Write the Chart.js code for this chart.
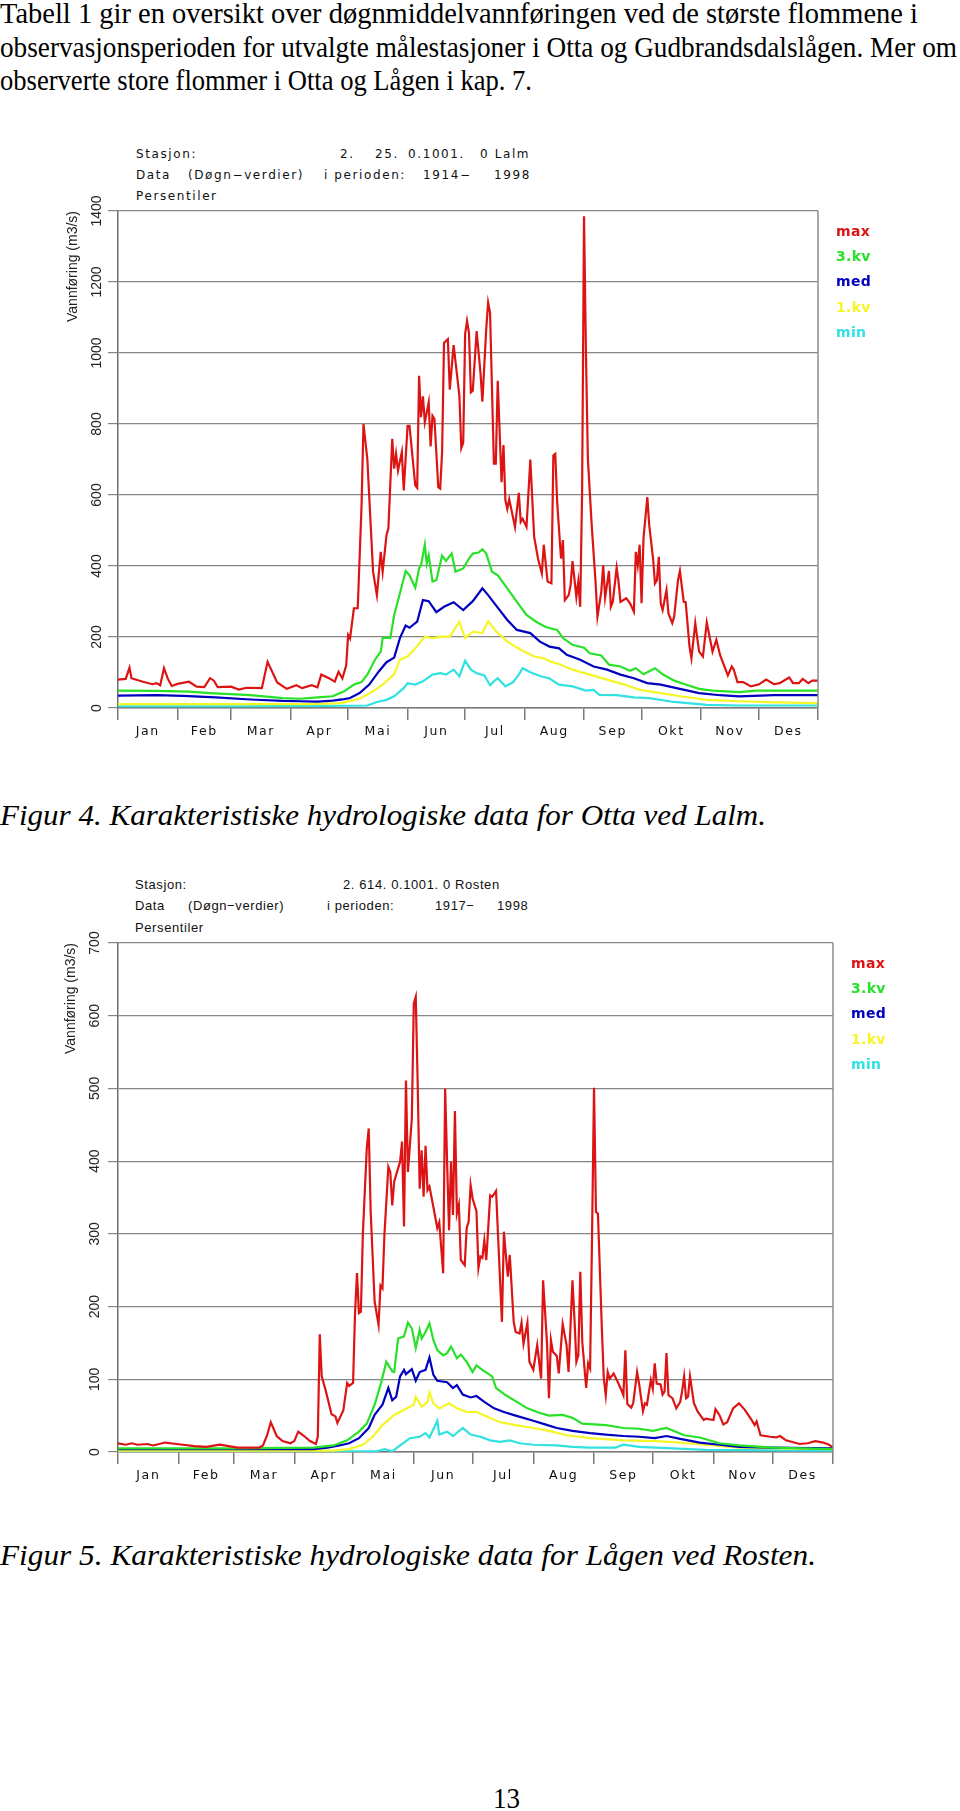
<!DOCTYPE html>
<html lang="no">
<head>
<meta charset="UTF-8">
<title>Figur 4 og 5 - persentiler</title>
<script src="https://cdn.jsdelivr.net/npm/chart.js"></script>
<style>
  body { margin: 0; background: #fff; }
  .page { position: relative; width: 960px; height: 1811px; overflow: hidden; }
  .serif { position: absolute; left: 0; font-family: "Liberation Serif", "Times New Roman", serif; font-size: 30px; line-height: 30px; color: #000; white-space: nowrap; transform-origin: 0 0; }
  .serif.it { font-style: italic; }
  .h1 { position: absolute; font-family: "DejaVu Sans", sans-serif; font-size: 12px; line-height: 14px; letter-spacing: 1.6px; color: #111; white-space: pre; }
  .h2 { position: absolute; font-family: "Liberation Sans", sans-serif; font-size: 13px; line-height: 14px; letter-spacing: 0.6px; color: #111; white-space: pre; }
  canvas { position: absolute; left: 0; }
</style>
</head>
<body>
<div class="page">

  <!-- brødtekst -->
  <div class="serif fit" data-w="918" style="top:-2px">Tabell 1 gir en oversikt over døgnmiddelvannføringen ved de største flommene i</div>
  <div class="serif fit" data-w="957" style="top:32px">observasjonsperioden for utvalgte målestasjoner i Otta og Gudbrandsdalslågen. Mer om</div>
  <div class="serif fit" data-w="532" style="top:65px">observerte store flommer i Otta og Lågen i kap. 7.</div>

  <!-- hode figur 4 -->
  <span class="h1" style="left:136px;top:147px">Stasjon:</span>
  <span class="h1" style="left:340px;top:147px">2.</span>
  <span class="h1" style="left:375px;top:147px">25.</span>
  <span class="h1" style="left:408px;top:147px">0.1001.</span>
  <span class="h1" style="left:480px;top:147px">0 Lalm</span>
  <span class="h1" style="left:136px;top:168px">Data</span>
  <span class="h1" style="left:188px;top:168px">(Døgn−verdier)</span>
  <span class="h1" style="left:324px;top:168px">i perioden:</span>
  <span class="h1" style="left:423px;top:168px">1914−</span>
  <span class="h1" style="left:494px;top:168px">1998</span>
  <span class="h1" style="left:136px;top:189px">Persentiler</span>

  <canvas id="lalm" width="960" height="630" style="top:120px"></canvas>

  <div class="serif it fit" data-w="766" style="top:800px">Figur 4. Karakteristiske hydrologiske data for Otta ved Lalm.</div>

  <!-- hode figur 5 -->
  <span class="h2" style="left:135px;top:878px">Stasjon:</span>
  <span class="h2" style="left:343px;top:878px">2. 614. 0.1001. 0 Rosten</span>
  <span class="h2" style="left:135px;top:899px">Data</span>
  <span class="h2" style="left:188px;top:899px">(Døgn−verdier)</span>
  <span class="h2" style="left:327px;top:899px">i perioden:</span>
  <span class="h2" style="left:435px;top:899px">1917−</span>
  <span class="h2" style="left:497px;top:899px">1998</span>
  <span class="h2" style="left:135px;top:921px">Persentiler</span>

  <canvas id="rosten" width="960" height="645" style="top:850px"></canvas>

  <div class="serif it fit" data-w="816" style="top:1540px">Figur 5. Karakteristiske hydrologiske data for Lågen ved Rosten.</div>
  <div class="serif fit" data-w="27" style="left:493px;top:1783px">13</div>
</div>

<script>
// felles for begge figurene
const monthNames = ['Jan', 'Feb', 'Mar', 'Apr', 'Mai', 'Jun', 'Jul', 'Aug', 'Sep', 'Okt', 'Nov', 'Des'];
const monthStarts = [0, 31, 59, 90, 120, 151, 181, 212, 243, 273, 304, 334, 365];
const seriesNames = ['max', '3.kv', 'med', '1.kv', 'min'];
const seriesColors = ['#dc1414', '#28e128', '#0000be', '#f5f528', '#32e1e1'];

// Figur 4: Otta ved Lalm, [dag i året, m3/s]
const lalmYTicks = [0, 200, 400, 600, 800, 1000, 1200, 1400];
const lalmMax = [[0,80],[4,82],[6,114],[7,84],[13,74],[18,67],[20,70],[22,64],[24,112],[26,82],[28,62],[31,68],[37,74],[41,60],[45,59],[48,84],[50,77],[52,59],[59,60],[63,52],[67,57],[75,56],[78,130],[83,72],[88,54],[93,64],[96,56],[101,64],[104,58],[106,94],[110,84],[113,74],[115,102],[117,83],[119,120],[120,206],[121,196],[123,281],[125,281],[127,571],[128,800],[130,702],[133,384],[135,318],[137,440],[138,384],[140,487],[141,507],[143,758],[144,674],[145,716],[146,669],[148,721],[149,613],[151,795],[152,795],[155,627],[156,620],[157,936],[158,819],[159,878],[160,805],[162,861],[163,737],[164,823],[165,814],[167,622],[168,618],[169,721],[170,1029],[172,1039],[173,897],[175,1022],[178,880],[179,732],[180,747],[181,1053],[182,1090],[183,1057],[184,889],[185,894],[187,1062],[189,945],[190,863],[192,1067],[193,1142],[194,1114],[196,688],[197,688],[198,922],[200,636],[201,741],[202,585],[203,561],[204,588],[207,510],[209,606],[210,524],[211,533],[213,510],[215,700],[217,482],[219,421],[221,379],[222,460],[224,356],[226,351],[227,711],[228,716],[229,580],[231,421],[232,473],[233,304],[235,318],[236,346],[237,414],[239,313],[240,356],[241,285],[242,608],[243,1385],[244,1001],[245,702],[247,515],[249,356],[250,257],[252,328],[253,402],[254,311],[256,386],[257,285],[258,299],[260,395],[261,356],[262,299],[265,309],[267,295],[269,271],[270,440],[271,402],[272,460],[273,295],[274,477],[276,594],[277,515],[279,421],[280,351],[281,360],[282,426],[283,295],[284,276],[286,332],[287,267],[289,239],[290,257],[292,360],[293,386],[295,299],[296,298],[298,173],[299,140],[301,239],[303,159],[305,145],[307,241],[310,159],[312,192],[314,148],[318,92],[320,117],[321,109],[323,73],[326,73],[330,61],[334,66],[338,80],[342,67],[345,70],[350,86],[352,70],[355,70],[357,82],[360,70],[362,77],[365,77]];
const lalmQ3 = [[0,49],[20,48],[37,46],[48,42],[69,36],[86,28],[95,26],[104,30],[112,33],[114,38],[118,47],[123,66],[127,73],[130,94],[134,136],[137,159],[138,197],[140,198],[142,197],[144,262],[147,323],[150,386],[152,374],[155,339],[157,393],[158,402],[160,460],[161,407],[162,430],[164,356],[166,360],[169,429],[171,414],[174,435],[176,384],[180,393],[183,421],[185,435],[188,438],[190,447],[192,435],[195,384],[198,374],[203,337],[208,299],[213,262],[218,243],[223,228],[229,220],[232,197],[237,178],[243,170],[246,154],[252,148],[256,122],[262,117],[267,105],[270,112],[274,95],[280,112],[284,95],[290,77],[296,66],[303,54],[310,49],[317,47],[324,45],[333,49],[342,49],[365,49]];
const lalmMed = [[0,35],[20,36],[34,34],[51,30],[69,24],[86,20],[95,19],[104,18],[112,21],[118,25],[121,28],[126,42],[131,66],[136,103],[140,129],[144,142],[147,197],[150,232],[152,226],[156,243],[159,304],[162,301],[166,270],[170,285],[175,298],[180,276],[185,301],[190,337],[193,318],[197,290],[203,248],[208,220],[215,211],[220,187],[225,173],[230,168],[234,150],[241,136],[248,117],[255,108],[262,94],[269,84],[276,70],[283,66],[293,54],[303,42],[314,36],[324,33],[342,36],[365,36]];
const lalmQ1 = [[0,11],[60,11],[100,11],[114,13],[118,15],[121,20],[126,26],[133,47],[138,66],[144,95],[147,136],[151,145],[155,168],[160,201],[164,197],[169,201],[173,201],[178,243],[181,197],[185,215],[190,211],[193,245],[197,217],[203,187],[210,164],[217,145],[222,140],[226,130],[230,124],[237,108],[246,94],[255,80],[264,66],[272,51],[283,42],[293,33],[307,23],[324,19],[342,16],[365,14]];
const lalmMin = [[0,5],[60,5],[110,6],[130,7],[135,17],[140,23],[144,33],[149,56],[151,70],[155,66],[159,75],[164,94],[168,98],[171,94],[175,108],[178,89],[181,133],[184,108],[187,98],[191,92],[194,64],[196,75],[198,84],[202,61],[206,73],[209,94],[211,112],[215,101],[220,90],[225,83],[230,66],[237,61],[244,49],[248,51],[251,37],[260,36],[269,30],[277,28],[290,17],[307,9],[324,7],[365,7]];

// Figur 5: Lågen ved Rosten
const rostenYTicks = [0, 100, 200, 300, 400, 500, 600, 700];
const rostenMax = [[0,12],[4,10],[7,12],[10,10],[15,11],[18,9],[24,13],[30,11],[39,8],[45,7],[52,10],[61,6],[72,6],[74,9],[76,22],[78,41],[81,22],[84,15],[88,12],[90,15],[92,28],[95,22],[98,15],[101,11],[102,21],[103,162],[104,104],[106,85],[109,52],[111,49],[112,40],[115,57],[117,95],[118,91],[120,95],[121,191],[122,246],[123,191],[124,193],[125,300],[127,418],[128,445],[129,330],[131,207],[133,175],[134,229],[135,225],[136,298],[138,392],[139,385],[140,339],[141,372],[143,390],[144,399],[145,427],[146,310],[147,511],[148,385],[150,459],[151,617],[152,626],[153,505],[154,362],[155,415],[156,351],[157,421],[158,360],[159,365],[161,337],[163,308],[164,316],[166,246],[167,500],[168,399],[169,305],[170,399],[171,326],[172,469],[173,328],[174,340],[175,264],[177,257],[178,308],[179,317],[180,367],[181,349],[183,331],[184,253],[185,269],[186,267],[187,291],[188,264],[190,353],[191,351],[193,359],[194,298],[196,179],[197,303],[198,271],[199,241],[200,271],[202,179],[203,165],[205,163],[206,178],[207,149],[209,178],[210,124],[212,113],[214,147],[216,101],[217,236],[219,150],[220,74],[221,154],[222,138],[224,132],[225,108],[227,176],[229,147],[230,110],[232,236],[233,184],[234,124],[235,133],[236,248],[237,152],[239,88],[240,122],[241,115],[242,298],[243,501],[244,330],[245,328],[247,170],[248,101],[249,78],[250,110],[251,101],[253,108],[255,97],[257,85],[258,78],[259,140],[260,66],[262,61],[263,67],[265,110],[266,94],[268,56],[269,67],[270,65],[272,99],[273,87],[274,122],[275,94],[277,93],[278,79],[279,83],[280,136],[281,78],[283,74],[285,60],[287,69],[288,84],[289,104],[290,74],[291,76],[292,104],[294,67],[296,55],[299,44],[300,46],[304,44],[305,59],[307,51],[309,38],[311,41],[314,60],[317,67],[320,58],[323,46],[325,37],[326,42],[328,23],[333,21],[336,20],[338,22],[341,16],[348,11],[352,12],[356,15],[360,13],[363,10],[365,6]];
const rostenQ3 = [[0,5],[60,5],[100,6],[110,9],[117,16],[123,28],[127,39],[131,65],[134,92],[137,124],[140,111],[141,110],[143,156],[146,159],[148,178],[150,170],[152,143],[154,168],[155,156],[157,165],[159,177],[161,154],[163,140],[166,133],[168,136],[170,145],[173,129],[175,134],[178,124],[181,110],[183,119],[186,113],[191,104],[193,88],[198,78],[203,70],[209,60],[215,54],[220,50],[227,51],[232,47],[237,39],[243,38],[249,37],[258,33],[266,32],[273,29],[280,33],[289,23],[297,20],[307,12],[317,9],[334,6],[365,4]];
const rostenMed = [[0,4],[60,4],[100,4],[107,6],[113,9],[118,12],[123,19],[128,33],[131,51],[135,65],[138,88],[140,71],[142,76],[144,104],[146,113],[147,107],[150,114],[152,98],[154,110],[157,113],[159,130],[161,106],[163,98],[168,96],[171,88],[173,92],[176,79],[180,75],[183,77],[187,69],[192,60],[197,55],[203,50],[212,43],[218,38],[224,33],[232,29],[241,26],[249,24],[258,22],[266,21],[274,19],[280,22],[287,18],[297,13],[307,10],[317,7],[334,6],[365,5]];
const rostenQ1 = [[0,2],[60,2],[110,2],[118,4],[125,10],[130,21],[135,37],[141,51],[146,58],[151,65],[152,76],[155,62],[158,69],[159,82],[161,67],[164,60],[169,67],[173,60],[178,55],[183,55],[188,49],[195,41],[203,37],[212,33],[220,29],[229,23],[241,19],[258,16],[275,15],[287,13],[300,10],[317,6],[365,4]];
const rostenMin = [[0,1],[60,1],[125,1],[132,1],[136,4],[140,1],[143,7],[146,13],[149,19],[154,21],[157,26],[159,20],[163,43],[164,24],[168,28],[171,22],[176,33],[180,24],[185,21],[190,16],[195,14],[200,16],[205,12],[212,10],[224,9],[232,7],[241,6],[254,6],[258,10],[266,7],[283,5],[300,3],[365,2]];

// månedsgrenser får tikkstrek, midten av måneden får navnet
const monthMids = monthNames.map((m, i) => (monthStarts[i] + monthStarts[i + 1]) / 2);
const xTickValues = monthStarts.concat(monthMids).sort((a, b) => a - b);

// tegner y-tall (rotert), y-tittel, høyre ramme og fargede legendetekster
const paperPlugin = {
  id: 'paper',
  beforeDraw(chart) {
    chart.ctx.letterSpacing = '1.6px';
  },
  afterDraw(chart, args, opts) {
    const { ctx, chartArea: a, scales: { y } } = chart;
    ctx.save();
    ctx.letterSpacing = '0px';

    ctx.strokeStyle = '#8c8c8c';
    ctx.lineWidth = 1.5;
    ctx.beginPath();
    ctx.moveTo(a.right, a.top);
    ctx.lineTo(a.right, a.bottom);
    ctx.stroke();

    ctx.fillStyle = '#222';
    ctx.font = '14px "Liberation Sans"';
    ctx.textAlign = 'center';
    ctx.textBaseline = 'middle';
    y.ticks.forEach(t => {
      ctx.save();
      ctx.translate(opts.labelX, y.getPixelForValue(t.value));
      ctx.rotate(-Math.PI / 2);
      ctx.fillText(String(t.value), 0, 0);
      ctx.restore();
    });

    ctx.save();
    ctx.font = '14px "Liberation Sans"';
    ctx.translate(opts.titleX, a.top);
    ctx.rotate(-Math.PI / 2);
    ctx.textAlign = 'right';
    ctx.fillText('Vannføring (m3/s)', 0, 0);
    ctx.restore();

    ctx.font = 'bold 14px "DejaVu Sans"';
    ctx.textAlign = 'left';
    ctx.letterSpacing = '0.3px';
    seriesNames.forEach((n, i) => {
      ctx.fillStyle = seriesColors[i];
      ctx.fillText(n, a.right + 18, a.top + 21 + i * 25.3);
    });
    ctx.restore();
  }
};

function makeChart(id, series, yTicks, pad, labelX, titleX) {
  const ctx = document.getElementById(id).getContext('2d');
  return new Chart(ctx, {
    type: 'line',
    data: {
      datasets: series.map((pts, i) => ({
        label: seriesNames[i],
        data: pts.map(p => ({ x: p[0], y: p[1] })),
        borderColor: seriesColors[i],
        borderWidth: 2.2,
        pointRadius: 0,
        tension: 0,
        fill: false,
        order: i
      }))
    },
    options: {
      responsive: false,
      animation: false,
      layout: { padding: pad },
      plugins: {
        legend: { display: false },
        tooltip: { enabled: false },
        paper: { labelX: labelX, titleX: titleX }
      },
      scales: {
        x: {
          type: 'linear',
          min: 0,
          max: 365,
          afterBuildTicks: s => { s.ticks = xTickValues.map(v => ({ value: v })); },
          afterFit: s => { s.height = 40; },
          ticks: {
            autoSkip: false,
            maxRotation: 0,
            minRotation: 0,
            padding: 4,
            color: '#111',
            font: { family: 'DejaVu Sans', size: 12.5 },
            callback: v => {
              const i = monthMids.indexOf(v);
              return i >= 0 ? monthNames[i] : '';
            }
          },
          grid: {
            drawOnChartArea: false,
            tickLength: 12,
            lineWidth: 1.5,
            color: c => (c.tick && monthStarts.includes(c.tick.value)) ? '#7a7a7a' : 'rgba(0,0,0,0)'
          },
          border: { display: true, color: '#7a7a7a', width: 1.5 }
        },
        y: {
          min: yTicks[0],
          max: yTicks[yTicks.length - 1],
          afterBuildTicks: s => { s.ticks = yTicks.map(v => ({ value: v })); },
          afterFit: s => { s.width = 118; },
          ticks: { display: false },
          grid: { color: '#858585', lineWidth: 1.2, tickLength: 10 },
          border: { display: true, color: '#6e6e6e', width: 1.5 }
        }
      }
    },
    plugins: [paperPlugin]
  });
}

makeChart('lalm', [lalmMax, lalmQ3, lalmMed, lalmQ1, lalmMin], lalmYTicks,
  { top: 91, right: 142, bottom: 2, left: 0 }, 97, 73);
makeChart('rosten', [rostenMax, rostenQ3, rostenMed, rostenQ1, rostenMin], rostenYTicks,
  { top: 93, right: 127, bottom: 3, left: 0 }, 95, 71);

// teksten i PDF-en er smal og høy: tilpass hver linje til riktig bredde
document.querySelectorAll('.fit').forEach(el => {
  const w = el.getBoundingClientRect().width;
  el.style.transform = 'scaleX(' + (Number(el.dataset.w) / w).toFixed(4) + ')';
});
</script>
</body>
</html>
